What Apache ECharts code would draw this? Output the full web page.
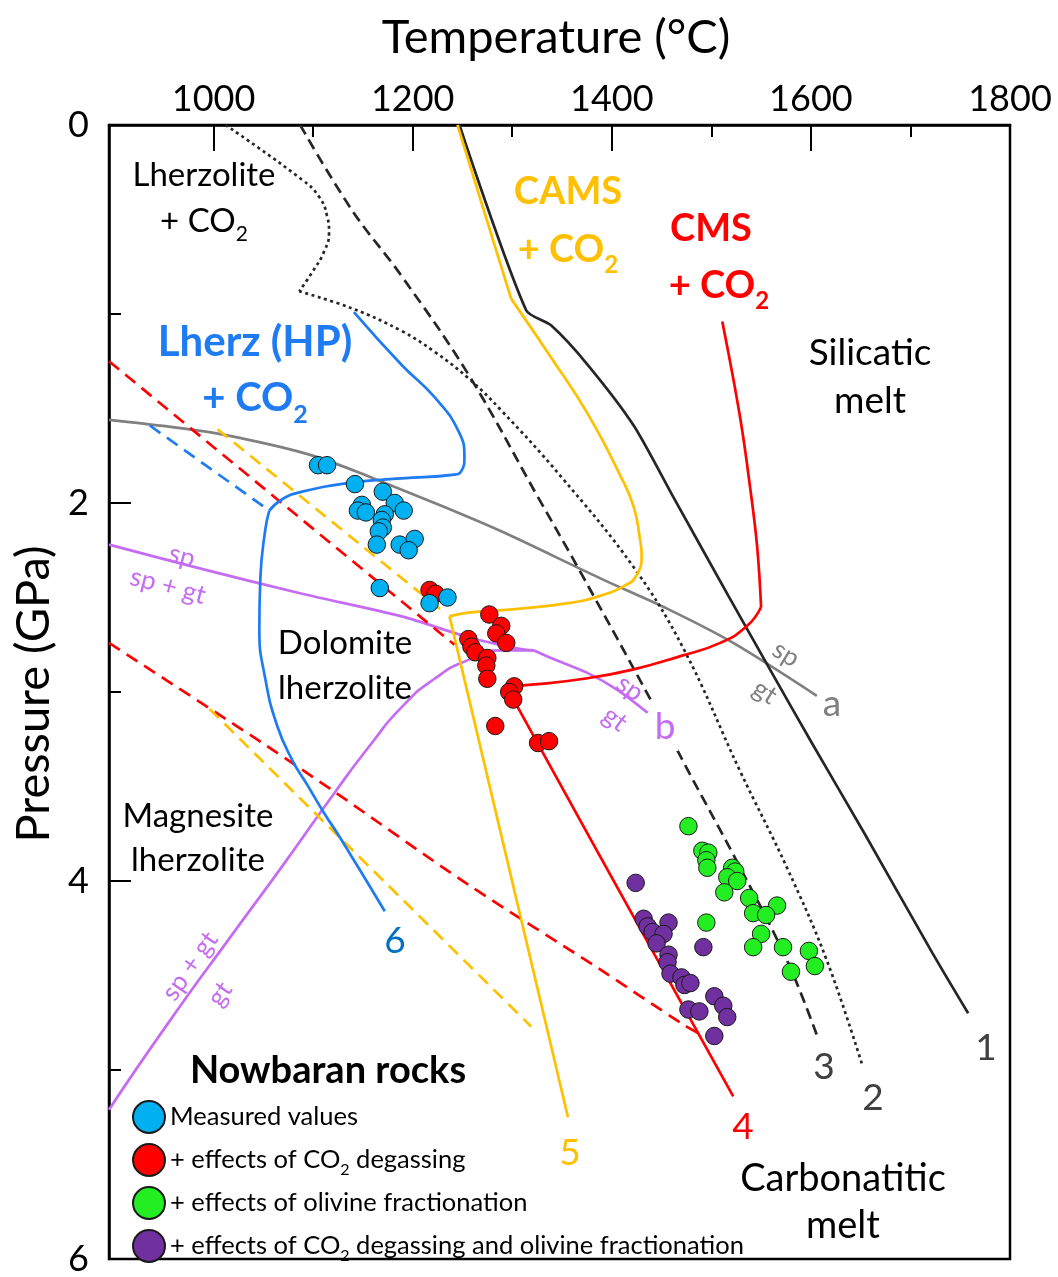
<!DOCTYPE html>
<html>
<head>
<meta charset="utf-8">
<script src="https://cdn.jsdelivr.net/npm/echarts@6/dist/echarts.min.js"></script>
<style>html,body{margin:0;padding:0;background:#fff}#c{width:1058px;height:1277px}</style>
</head>
<body>
<div id="c"></div>
<script>
// ---------------- DATA (Temperature °C, Pressure GPa) ----------------
const xTickLabels = [1000, 1200, 1400, 1600, 1800];
const xMajorTicks = [1000, 1200, 1400, 1600];
const xMinorTicks = [1100, 1300, 1500, 1700];
const yTickLabels = [0, 2, 4, 6];
const yMajorTicks = [2, 4];
const yMinorTicks = [1, 3, 5];

// curve 1 (solid black)
const curve1 = [[1247,0],[1314,0.98],[1339,1.06],[1376,1.27],[1422,1.59],[1462,1.97],[1517,2.49],[1561,2.90],[1601,3.27],[1654,3.75],[1722,4.38],[1758,4.70]];
// curve 2 (dotted black), upper bulge and lower branch
const curve2a = [[1012,0],[1089,0.29],[1106,0.38],[1114,0.48],[1116,0.57],[1111,0.67],[1099,0.78],[1086,0.88]];
const curve2b = [[1086,0.88],[1139,0.97],[1189,1.09],[1222,1.20],[1256,1.34],[1289,1.51],[1349,1.86],[1422,2.34],[1472,2.77],[1529,3.42],[1576,3.93],[1616,4.42],[1652,4.98]];
// curve 3 (dashed black)
const curve3 = [[1087,0],[1139,0.45],[1189,0.80],[1256,1.32],[1326,1.97],[1369,2.37],[1442,3.07],[1479,3.44],[1522,3.86],[1576,4.42],[1607,4.83]];
// CMS + CO2 (red) and curve 4
const cmsUpper = [[1511,1.04],[1529,1.55],[1539,1.92],[1546,2.23],[1550,2.55]];
const cmsLower = [[1550,2.55],[1536,2.65],[1509,2.74],[1469,2.81],[1422,2.88],[1372,2.93],[1322,2.96],[1294,2.97]];
const curve4 = [[1294,2.97],[1382,3.81],[1522,5.14]];
// CAMS + CO2 (yellow) and curve 5
const camsTop = [[1245,0],[1299,0.92]];
const camsBend = [[1299,0.92],[1339,1.23],[1376,1.53],[1409,1.86],[1422,2.02],[1428,2.18],[1430,2.28],[1424,2.39],[1412,2.44],[1389,2.49],[1356,2.53],[1306,2.56],[1256,2.58],[1237,2.60]];
const curve5 = [[1237,2.60],[1356,5.25]];
// Lherz (HP) + CO2 (blue) and curve 6
const lherzUpper = [[1141,0.99],[1189,1.27],[1222,1.44],[1246,1.62],[1252,1.76],[1249,1.83],[1242,1.85],[1189,1.87],[1142,1.89],[1089,1.94],[1069,1.98],[1056,2.04]];
const curve6 = [[1056,2.04],[1052,2.14],[1047,2.40],[1046,2.67],[1052,2.93],[1064,3.18],[1079,3.36],[1094,3.49],[1111,3.64],[1127,3.77],[1172,4.16]];
// metastable extensions (dashed)
const blueDashed = [[936,1.59],[1056,2.04]];
const redDashedUpper = [[895,1.25],[1242,2.75]];
const redDashedLower = [[895,2.74],[1052,3.28],[1122,3.53],[1256,4.02],[1389,4.47],[1472,4.76],[1492,4.82]];
const yellowDashedUpper = [[1004,1.61],[1232,2.58]];
const yellowDashedLower = [[996,3.09],[1319,4.77]];
// spinel / garnet boundaries
const boundaryA = [[895,1.56],[989,1.62],[1056,1.69],[1106,1.76],[1156,1.86],[1222,2.00],[1289,2.15],[1389,2.40],[1456,2.56],[1522,2.74],[1606,3.02]];
const boundaryBUpper = [[895,2.22],[989,2.35],[1089,2.48],[1189,2.60],[1256,2.71],[1306,2.77],[1322,2.78]];
const boundaryBLower = [[895,5.21],[956,4.74],[1022,4.26],[1072,3.90],[1122,3.53],[1159,3.27],[1189,3.08],[1222,2.93],[1256,2.83],[1289,2.78],[1322,2.78]];
const boundaryB = [[1322,2.78],[1339,2.82],[1376,2.90],[1406,2.99],[1436,3.11]];

// Nowbaran rocks
const measured = [[1105,1.80],[1114,1.80],[1142,1.90],[1170,1.94],[1149,2.01],[1145,2.04],[1153,2.05],[1182,2.00],[1191,2.04],[1172,2.06],[1169,2.09],[1170,2.13],[1166,2.15],[1164,2.22],[1187,2.22],[1202,2.19],[1196,2.25],[1167,2.45],[1217,2.53],[1235,2.50]];
const co2Degassing = [[1217,2.46],[1223,2.48],[1277,2.59],[1289,2.65],[1284,2.69],[1294,2.74],[1256,2.72],[1259,2.76],[1263,2.79],[1275,2.82],[1274,2.86],[1275,2.93],[1302,2.97],[1297,3.00],[1301,3.04],[1283,3.18],[1326,3.27],[1337,3.26]];
const olivineFrac = [[1477,3.71],[1491,3.84],[1497,3.85],[1495,3.89],[1496,3.93],[1521,3.93],[1524,3.95],[1516,3.98],[1526,4.00],[1513,4.06],[1538,4.09],[1566,4.13],[1542,4.17],[1555,4.18],[1495,4.22],[1550,4.28],[1542,4.35],[1572,4.35],[1598,4.37],[1604,4.45],[1580,4.48]];
const co2AndOlivine = [[1424,4.01],[1432,4.20],[1457,4.22],[1436,4.24],[1441,4.27],[1452,4.28],[1445,4.33],[1492,4.35],[1457,4.39],[1456,4.43],[1459,4.49],[1470,4.51],[1473,4.55],[1479,4.54],[1503,4.61],[1512,4.66],[1516,4.72],[1477,4.68],[1488,4.69],[1503,4.82]];

const seriesNames = ['Measured values', '+ effects of CO2 degassing', '+ effects of olivine fractionation', '+ effects of CO2 degassing and olivine fractionation'];

// ---------------- STYLE / LAYOUT ----------------
const FONT = 'Lato, "Open Sans", sans-serif';
const COL = {
  black: '#262626', dark: '#404040', blue: '#1F7BF2', blue6: '#0070C0', yellow: '#FFC000',
  red: '#FF0000', gray: '#808080', purple: '#C56CF2'
};

function line(data, color, type, smooth, width) {
  return {
    type: 'line', data: data, showSymbol: false, symbol: 'none', smooth: smooth || false,
    lineStyle: { color: color, width: width || 2.7, type: type || 'solid' },
    silent: true, z: 2, animation: false, clip: true
  };
}
const DOT = [3, 3.5], DASH_K = [11, 6], DASH_C = [13, 8];

const series = [
  line(boundaryA, COL.gray, 'solid', 0.3),
  line(boundaryBUpper, COL.purple, 'solid', 0.3),
  line(boundaryBLower, COL.purple, 'solid', 0.6),
  line(boundaryB, COL.purple, 'solid', 0.3),
  line(redDashedUpper, COL.red, DASH_C),
  line(redDashedLower, COL.red, DASH_C, 0.3),
  line(yellowDashedUpper, COL.yellow, DASH_C),
  line(yellowDashedLower, COL.yellow, DASH_C),
  line(blueDashed, COL.blue, DASH_C),
  line(curve2a, COL.black, DOT, 0.5),
  line(curve2b, COL.black, DOT, 0.4),
  line(curve3, COL.black, DASH_K, 0.4),
  line(curve1, COL.black, 'solid', 0.25),
  line(camsTop, COL.yellow, 'solid'),
  line(camsBend, COL.yellow, 'solid', 0.5),
  line(curve5, COL.yellow, 'solid'),
  line(cmsUpper, COL.red, 'solid', 0.4),
  line(cmsLower, COL.red, 'solid', 0.5),
  line(curve4, COL.red, 'solid'),
  line(lherzUpper, COL.blue, 'solid', 0.5),
  line(curve6, COL.blue, 'solid', 0.5)
];
const pointColors = ['#00B0F0', '#FF0000', '#22EE22', '#7030A0'];
const pointData = [measured, co2Degassing, olivineFrac, co2AndOlivine];
const pointZ = [7, 6, 6, 6];
pointData.forEach(function (d, i) {
  series.push({
    name: seriesNames[i], type: 'scatter', data: d, symbol: 'circle', symbolSize: 17.5,
    itemStyle: { color: pointColors[i], borderColor: '#1a1a1a', borderWidth: 1, opacity: 1 },
    z: pointZ[i], animation: false
  });
});

// text annotations: [text, x, y, size, color, bold, rotationDeg, whiteBg]
const notes = [
  ['Temperature (°C)', 556, 38, 47, '#000', false, 0],
  ['Pressure (GPa)', 34, 694, 47, '#000', false, 90],
  ['Lherzolite', 204, 175, 33, '#000', false, 0],
  ['+ CO2', 204, 221, 33, '#000', false, 0],
  ['Dolomite', 345, 643, 33, '#000', false, 0],
  ['lherzolite', 345, 688, 33, '#000', false, 0],
  ['Magnesite', 198, 816, 33, '#000', false, 0],
  ['lherzolite', 198, 860, 33, '#000', false, 0],
  ['Silicatic', 870, 353, 37, '#000', false, 0],
  ['melt', 870, 401, 37, '#000', false, 0],
  ['Carbonatitic', 843, 1179, 38, '#000', false, 0],
  ['melt', 843, 1226, 38, '#000', false, 0],
  ['Lherz (HP)', 255, 342, 42, COL.blue, true, 0],
  ['+ CO2', 255, 398, 40, COL.blue, true, 0],
  ['CAMS', 568, 192, 38, COL.yellow, true, 0],
  ['+ CO2', 568, 250, 38, COL.yellow, true, 0],
  ['CMS', 711, 229, 38, COL.red, true, 0],
  ['+ CO2', 719, 286, 38, COL.red, true, 0],
  ['1', 986, 1048, 37, COL.dark, false, 0],
  ['2', 873, 1098, 37, COL.dark, false, 0],
  ['3', 824, 1067, 37, COL.dark, false, 0],
  ['4', 743, 1127, 37, COL.red, false, 0],
  ['5', 570, 1153, 37, COL.yellow, false, 0],
  ['6', 395, 941, 37, COL.blue6, false, 0],
  ['a', 832, 704, 37, COL.gray, false, 0],
  ['b', 665, 727, 37, COL.purple, false, 0, true],
  ['sp', 786, 654, 26, COL.gray, false, -32],
  ['gt', 765, 692, 26, COL.gray, false, -32],
  ['sp', 630, 688, 26, COL.purple, false, -36],
  ['gt', 615, 719, 26, COL.purple, false, -36],
  ['sp', 182, 556, 26, COL.purple, false, -15],
  ['sp + gt', 168, 586, 26, COL.purple, false, -15],
  ['sp + gt', 190, 966, 26, COL.purple, false, 55],
  ['gt', 220, 994, 26, COL.purple, false, 55],
  ['Nowbaran rocks', 328, 1071, 38, '#000', true, 0]
];
const graphics = notes.map(function (n) {
  const txt = n[0], size = n[3], color = n[4], bold = n[5];
  const hasSub = txt.indexOf('CO2') >= 0;
  const w = bold ? 'bold ' : '';
  const style = {
    text: hasSub ? txt.replace('CO2', 'CO{s|2}') : txt,
    x: 0, y: 0, fill: color,
    font: w + size + 'px ' + FONT,
    align: 'center', verticalAlign: 'middle',
    textAlign: 'center', textVerticalAlign: 'middle',
    lineHeight: hasSub ? Math.round(size * 1.45) : Math.round(size * 1.2)
  };
  if (hasSub) {
    const ss = Math.round(size * 0.63);
    style.rich = { s: { font: w + ss + 'px ' + FONT, fill: color, lineHeight: ss, verticalAlign: 'bottom' } };
  }
  if (n[7]) { style.backgroundColor = '#fff'; style.padding = [2, 3]; }
  return { type: 'text', x: n[1], y: n[2], rotation: (n[6] || 0) * Math.PI / 180, z: 100, silent: true, style: style };
});

const axisTxt = { fontFamily: FONT, fontSize: 36, color: '#000', formatter: function (v) { return String(v); } };
const option = {
  animation: false,
  backgroundColor: '#fff',
  grid: { left: 109, right: 48, top: 125, bottom: 9, show: true, borderColor: '#000', borderWidth: 2.5, backgroundColor: 'transparent' },
  xAxis: [
    { type: 'value', position: 'top', min: 895, max: 1800,
      axisLine: { show: true, onZero: false, lineStyle: { color: '#000', width: 2.5 } },
      axisTick: { show: true, inside: true, length: 26, customValues: xMajorTicks, lineStyle: { color: '#000', width: 2 } },
      axisLabel: Object.assign({ show: true, customValues: xTickLabels, margin: 8 }, axisTxt),
      splitLine: { show: false } },
    { type: 'value', position: 'top', min: 895, max: 1800,
      axisLine: { show: false, onZero: false },
      axisTick: { show: true, inside: true, length: 12, customValues: xMinorTicks, lineStyle: { color: '#000', width: 2 } },
      axisLabel: { show: false }, splitLine: { show: false } }
  ],
  yAxis: [
    { type: 'value', inverse: true, position: 'left', min: 0, max: 6,
      axisLine: { show: true, onZero: false, lineStyle: { color: '#000', width: 2.5 } },
      axisTick: { show: true, inside: true, length: 22, customValues: yMajorTicks, lineStyle: { color: '#000', width: 2 } },
      axisLabel: Object.assign({ show: true, customValues: yTickLabels, margin: 20 }, axisTxt),
      splitLine: { show: false } },
    { type: 'value', inverse: true, position: 'left', min: 0, max: 6,
      axisLine: { show: false, onZero: false },
      axisTick: { show: true, inside: true, length: 12, customValues: yMinorTicks, lineStyle: { color: '#000', width: 2 } },
      axisLabel: { show: false }, splitLine: { show: false } }
  ],
  legend: {
    orient: 'vertical', left: 127, top: 1094, itemWidth: 32, itemHeight: 32, itemGap: 7,
    icon: 'circle', data: seriesNames, selectedMode: false,
    textStyle: { fontFamily: FONT, fontSize: 25.5, color: '#000', lineHeight: 36,
      rich: { s: { fontFamily: FONT, fontSize: 16, lineHeight: 16, verticalAlign: 'bottom', color: '#000' } } },
    formatter: function (name) { return name.replace('CO2', 'CO{s|2}'); }
  },
  series: series,
  graphic: { elements: graphics }
};
const chart = echarts.init(document.getElementById('c'), null, { renderer: 'canvas' });
chart.setOption(option);
</script>
</body>
</html>
